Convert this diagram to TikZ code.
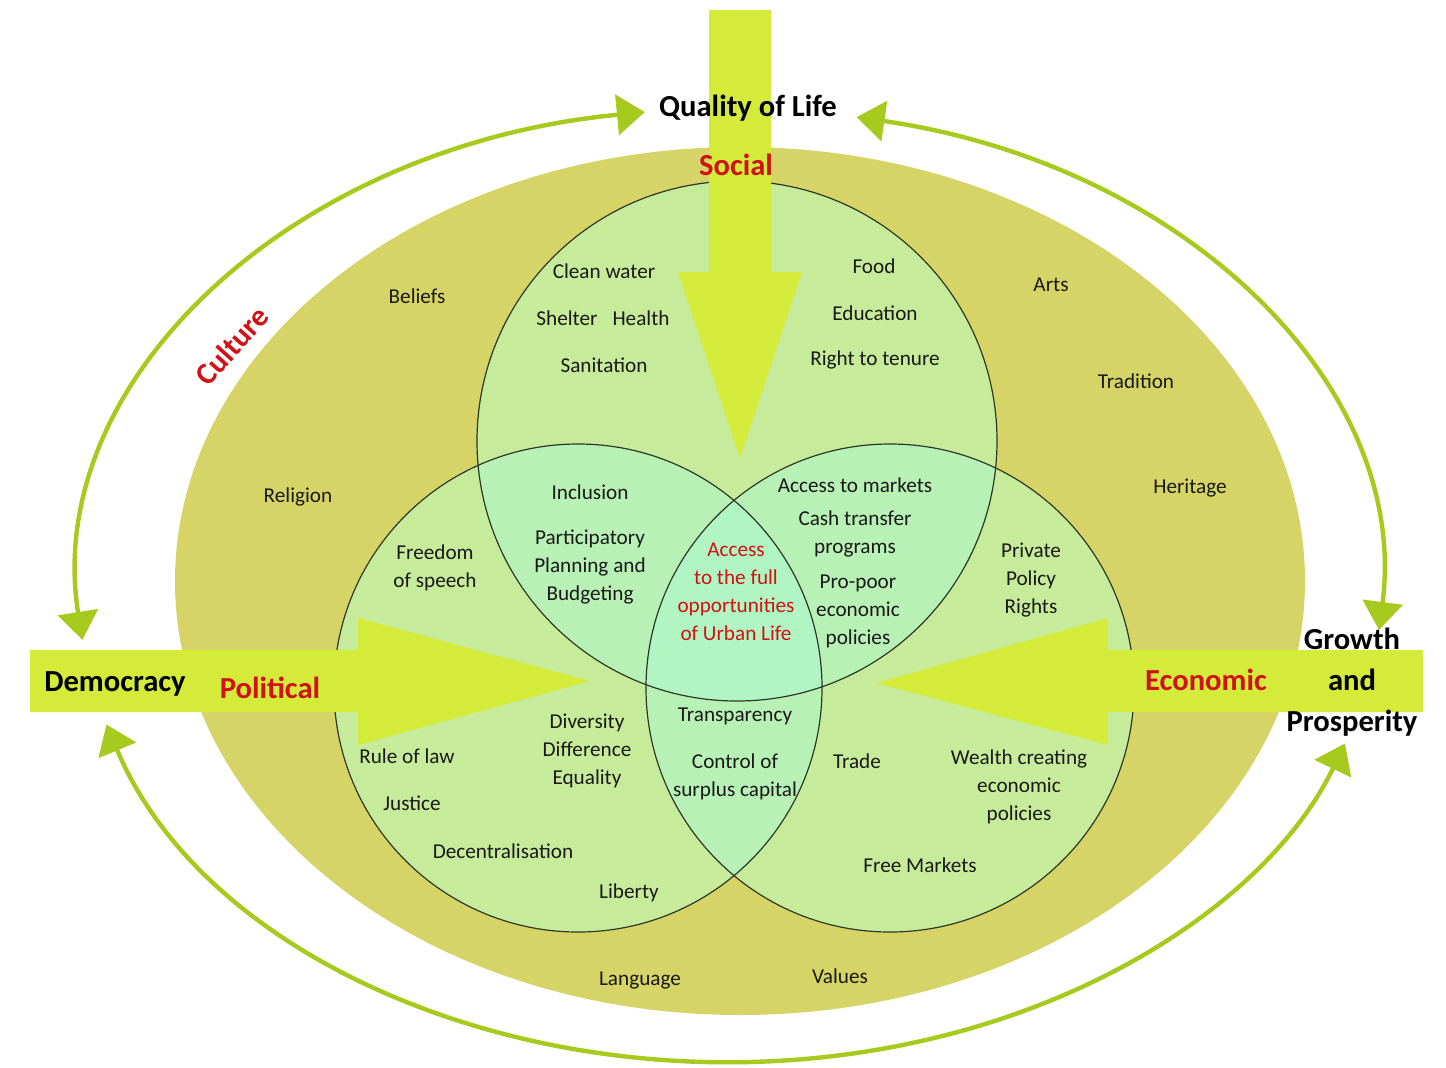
\documentclass[tikz,border=0pt]{standalone}
\usepackage{fontspec}
\setmainfont{Carlito}
\usetikzlibrary{arrows.meta}
\definecolor{tanfill}{RGB}{214,212,102}
\definecolor{circfill}{RGB}{198,236,155}
\definecolor{pairfill}{RGB}{184,241,181}
\definecolor{triplefill}{RGB}{176,245,194}
\definecolor{bigarrow}{RGB}{212,235,58}
\definecolor{ringgreen}{RGB}{168,202,30}
\definecolor{hotred}{RGB}{208,18,22}
\definecolor{outlinecol}{RGB}{45,55,40}
\tikzset{
  lbl/.style={font=\fontsize{10.6}{14}\selectfont, align=center, inner sep=0pt, text=black!90},
  redlbl/.style={lbl, text=hotred},
  big/.style={font=\fontsize{15.3}{20.5}\selectfont\bfseries, align=center, inner sep=0pt, text=black},
  bigred/.style={big, text=hotred},
  ringarrow/.style={draw=ringgreen, line width=2.2pt,
    {Triangle[width=20pt,length=14pt]}-{Triangle[width=20pt,length=14pt]}},
  circline/.style={draw=outlinecol, line width=0.6pt}
}
\begin{document}
\begin{tikzpicture}[x=0.5pt,y=-0.5pt]
\useasboundingbox (0,0) rectangle (1446,1067);
\fill[white] (0,0) rectangle (1446,1067);

% culture ellipse
\fill[tanfill] (740,581) ellipse [x radius=565, y radius=434];

% circles
\fill[circfill] (737,441) circle [radius=260];
\fill[circfill] (578,688) circle [radius=244];
\fill[circfill] (890,688) circle [radius=244];
\begin{scope}
  \clip (737,441) circle [radius=260];
  \fill[pairfill] (578,688) circle [radius=244];
  \fill[pairfill] (890,688) circle [radius=244];
\end{scope}
\begin{scope}
  \clip (578,688) circle [radius=244];
  \fill[pairfill] (890,688) circle [radius=244];
\end{scope}
\begin{scope}
  \clip (737,441) circle [radius=260];
  \clip (578,688) circle [radius=244];
  \fill[triplefill] (890,688) circle [radius=244];
\end{scope}
\draw[circline] (737,441) circle [radius=260];
\draw[circline] (578,688) circle [radius=244];
\draw[circline] (890,688) circle [radius=244];

% big arrows
\fill[bigarrow] (709,10) -- (771,10) -- (771,272) -- (802,272) -- (740,458) -- (678,272) -- (709,272) -- cycle;
\fill[bigarrow] (30,650) -- (358,650) -- (358,618) -- (590,681) -- (358,745) -- (358,712) -- (30,712) -- cycle;
\fill[bigarrow] (1423,650) -- (1108,650) -- (1108,618) -- (876,683) -- (1108,745) -- (1108,712) -- (1423,712) -- cycle;

% outer ring arrows
\begin{scope}[shift={(730,585)}, x=0.5pt, y=0.5pt]
  \coordinate (ringA) at (186.6:652 and 477);
  \coordinate (ringB) at (197:652 and 477);
  \coordinate (ringC) at (78.8:652 and 477);
  \draw[ringarrow] (ringA) arc[start angle=186.6, end angle=97.5, x radius=652, y radius=477];
  \draw[ringarrow] (ringB) arc[start angle=197, end angle=340.6, x radius=652, y radius=477];
  \draw[ringarrow] (ringC) arc[start angle=78.8, end angle=-5.4, x radius=652, y radius=477];
\end{scope}

% headings
\node[big] (qol) at (748,108) {Quality of Life};
\node[bigred] (social) at (736,165) {Social};
\node[big] (democracy) at (115,684) {Democracy};
\node[bigred] (political) at (270,688) {Political};
\node[bigred] (economic) at (1206,680) {Economic};
\node[big] (growth) at (1352,682) {Growth\\and\\Prosperity};
\node[bigred, rotate=48] (culture) at (232,346) {Culture};

% culture labels
\node[lbl] (beliefs) at (417,296) {Beliefs};
\node[lbl] (arts) at (1051,285) {Arts};
\node[lbl] (tradition) at (1136,381) {Tradition};
\node[lbl] (heritage) at (1190,488) {Heritage};
\node[lbl] (religion) at (298,497) {Religion};
\node[lbl] (language) at (640,981) {Language};
\node[lbl] (values) at (840,976) {Values};

% social labels
\node[lbl] (cleanwater) at (604,271) {Clean water};
\node[lbl] (shelter) at (603,318) {Shelter\hspace{7.5pt}Health};
\node[lbl] (sanitation) at (604,365) {Sanitation};
\node[lbl] (food) at (874,266) {Food};
\node[lbl] (education) at (875,313) {Education};
\node[lbl] (tenure) at (875,360) {Right to tenure};

% overlaps
\node[lbl] (inclusion) at (590,492) {Inclusion};
\node[lbl] (participatory) at (590,567) {Participatory\\Planning and\\Budgeting};
\node[redlbl] (access) at (736,592) {Access\\to the full\\opportunities\\of Urban Life};
\node[lbl] (markets) at (855,485) {Access to markets};
\node[lbl] (cash) at (855,534) {Cash transfer\\programs};
\node[lbl] (propoor) at (858,611) {Pro-poor\\economic\\policies};
\node[lbl] (transparency) at (735,716) {Transparency};
\node[lbl] (control) at (735,777) {Control of\\surplus capital};

% political labels
\node[lbl] (freedom) at (435,568) {Freedom\\of speech};
\node[lbl] (diversity) at (587,751) {Diversity\\Difference\\Equality};
\node[lbl] (rulelaw) at (407,756) {Rule of law};
\node[lbl] (justice) at (412,803) {Justice};
\node[lbl] (decentral) at (503,851) {Decentralisation};
\node[lbl] (liberty) at (629,893) {Liberty};

% economic labels
\node[lbl] (private) at (1031,580) {Private\\Policy\\Rights};
\node[lbl] (trade) at (857,761) {Trade};
\node[lbl] (wealth) at (1019,787) {Wealth creating\\economic\\policies};
\node[lbl] (freemarkets) at (920,865) {Free Markets};
\end{tikzpicture}
\end{document}
